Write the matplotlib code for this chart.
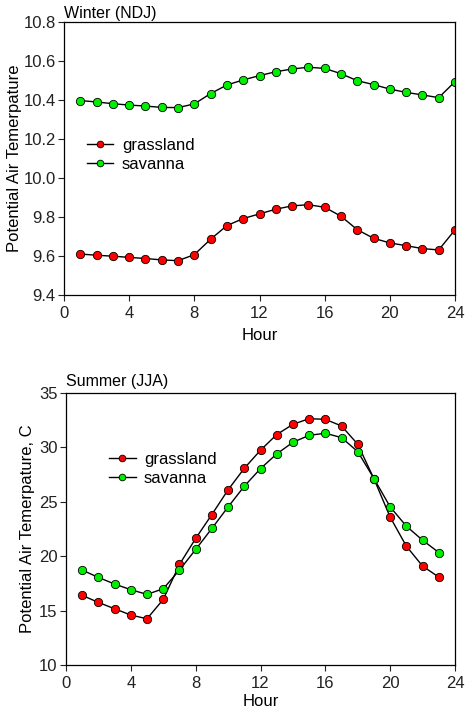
import matplotlib.pyplot as plt

plt.rcParams['font.family'] = ['Liberation Sans', 'DejaVu Sans']

# winter (NDJ), hours 1..24
hours_winter = list(range(1, 25))
winter_grassland = [9.610, 9.604, 9.599, 9.593, 9.587, 9.580, 9.576, 9.607,
                    9.686, 9.756, 9.792, 9.816, 9.840, 9.857, 9.863, 9.850,
                    9.804, 9.735, 9.691, 9.667, 9.653, 9.638, 9.631, 9.734]
winter_savanna = [10.397, 10.390, 10.381, 10.374, 10.369, 10.362, 10.361, 10.380,
                  10.433, 10.477, 10.503, 10.525, 10.545, 10.559, 10.568, 10.562,
                  10.535, 10.499, 10.479, 10.456, 10.439, 10.426, 10.412, 10.494]

# summer (JJA), hours 1..23
hours_summer = list(range(1, 24))
summer_grassland = [16.40, 15.75, 15.17, 14.59, 14.25, 16.03, 19.24, 21.63,
                    23.83, 26.10, 28.08, 29.74, 31.18, 32.12, 32.64, 32.58,
                    31.97, 30.29, 27.11, 23.59, 20.92, 19.09, 18.08]
summer_savanna = [18.72, 18.05, 17.44, 16.92, 16.49, 17.01, 18.72, 20.62,
                  22.55, 24.53, 26.43, 28.05, 29.40, 30.47, 31.11, 31.30,
                  30.90, 29.61, 27.14, 24.53, 22.76, 21.47, 20.34]

W, H = 465, 709
fig = plt.figure(figsize=(W / 100, H / 100), dpi=100)

def box(l, t, r, b):
    return [l / W, 1 - b / H, (r - l) / W, (b - t) / H]

ax1 = fig.add_axes(box(64, 22, 455, 295))
ax2 = fig.add_axes(box(66, 393, 455, 665))

def draw(ax, x, g, s):
    ax.plot(x, g, color='black', lw=1, marker='o', ms=6,
            mfc='#ff0000', mec='black', mew=0.6, label='grassland')
    ax.plot(x, s, color='black', lw=1, marker='o', ms=6,
            mfc='#00ee00', mec='black', mew=0.6, label='savanna')

draw(ax1, hours_winter, winter_grassland, winter_savanna)
draw(ax2, hours_summer, summer_grassland, summer_savanna)

for ax in (ax1, ax2):
    ax.set_xlim(0, 24)
    ax.set_xticks(range(0, 25, 4))
    ax.tick_params(direction='out', length=4, width=0.8, labelsize=12,
                   colors='#222222', pad=2)
    ax.tick_params(axis='x', pad=4)
    for sp in ax.spines.values():
        sp.set_linewidth(0.9)

ax1.set_xlabel('Hour', fontsize=12, labelpad=5)
ax2.set_xlabel('Hour', fontsize=12, labelpad=2)

ax1.set_ylim(9.4, 10.8)
ax1.set_yticks([9.4, 9.6, 9.8, 10.0, 10.2, 10.4, 10.6, 10.8])
ax1.set_yticklabels(['9.4', '9.6', '9.8', '10.0', '10.2', '10.4', '10.6', '10.8'])
ax1.set_ylabel('Potential Air Temerpature', fontsize=12, labelpad=1)
ax1.set_title('Winter (NDJ)', loc='left', fontsize=11.5, pad=3)
ax1.legend(loc='upper left', bbox_to_anchor=(0.02, 0.63), frameon=False,
           fontsize=12, handlelength=1.6, handletextpad=0.5, labelspacing=0.25,
           markerscale=0.8)

ax2.set_ylim(10, 35)
ax2.set_yticks(range(10, 36, 5))
ax2.set_ylabel('Potential Air Temerpature, C', fontsize=12, labelpad=3)
ax2.set_title('Summer (JJA)', loc='left', fontsize=11.5, pad=5)
ax2.legend(loc='upper left', bbox_to_anchor=(0.072, 0.84), frameon=False,
           fontsize=12, handlelength=1.6, handletextpad=0.5, labelspacing=0.25,
           markerscale=0.8)

fig.savefig('out.png', dpi=100)
